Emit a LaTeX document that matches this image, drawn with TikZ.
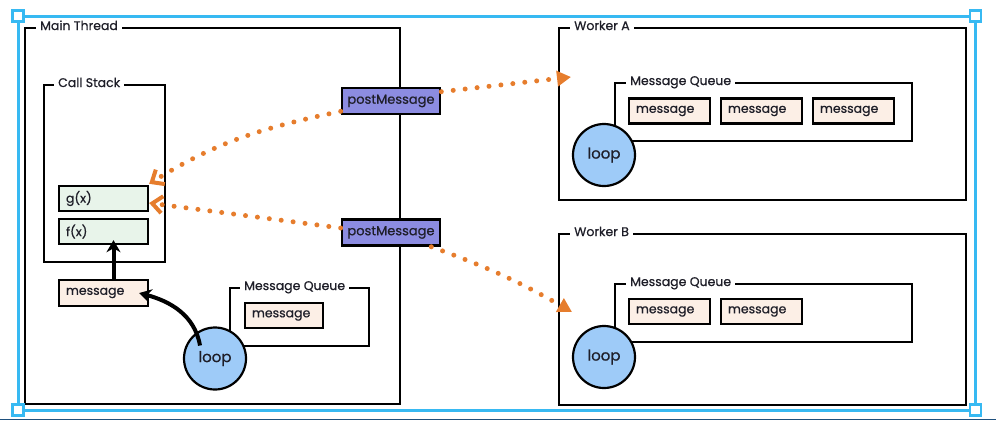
\documentclass[tikz,border=0pt]{standalone}
\usepackage{fontspec}
\setmainfont{Poppins}[FakeBold=0.6]
\usetikzlibrary{arrows.meta}
\definecolor{txt}{RGB}{30,30,40}
\definecolor{greenfill}{RGB}{232,244,234}
\definecolor{msgfill}{RGB}{252,239,230}
\definecolor{loopblue}{RGB}{158,203,248}
\definecolor{pmpurple}{RGB}{140,140,225}
\definecolor{orng}{RGB}{230,125,45}
\definecolor{selblue}{RGB}{55,185,242}
\definecolor{navy}{RGB}{30,80,125}
\begin{document}
\begin{tikzpicture}[x=1pt,y=1pt,
  frame/.style={draw=black, line width=2.4pt, anchor=north west, inner sep=0pt},
  title/.style={fill=white, anchor=base west, inner xsep=4pt, inner ysep=1pt, text=txt, font=\fontsize{12.5}{14}\selectfont},
  box/.style={draw=black, line width=2.4pt, inner xsep=7pt, inner ysep=0pt, minimum height=25pt, align=left, text=txt, font=\fontsize{12.5}{14}\selectfont},
  loopc/.style={circle, draw=black, line width=2.2pt, fill=loopblue, minimum size=62pt, inner sep=0pt, text=txt, font=\fontsize{15}{17}\selectfont},
  pm/.style={draw=black, line width=2.6pt, fill=pmpurple, minimum width=98pt, minimum height=26pt, inner sep=0pt, text=txt, font=\fontsize{13}{15}\selectfont},
  blk/.style={draw=black, line width=4pt, -{Stealth[length=12pt,width=14pt]}},
  odot/.style={draw=orng, line width=5pt, line cap=round, dash pattern=on 0pt off 12pt},
  barb/.style={-{Straight Barb[length=10pt,width=17pt,line width=4pt]}},
  tri/.style={-{Triangle[length=14pt,width=15pt]}},
  handle/.style={draw=selblue, fill=white, line width=2.5pt, minimum size=11pt, inner sep=0pt}
]
\useasboundingbox (0,0) rectangle (996,-421);

% frames
\node[frame, minimum width=375pt, minimum height=376pt] (main) at (24,-27) {};
\node[title] (tmain) at (36,-30) {Main Thread};
\node[frame, minimum width=121pt, minimum height=177pt] (cs) at (43,-84) {};
\node[title] (tcs) at (54,-87) {Call Stack};
\node[frame, minimum width=139pt, minimum height=58pt] (mqm) at (229,-287) {};
\node[title] (tmqm) at (240,-290) {Message Queue};

\node[frame, minimum width=407pt, minimum height=172pt] (wa) at (558,-27) {};
\node[title] (twa) at (570,-30) {Worker A};
\node[frame, minimum width=297pt, minimum height=58pt] (mqa) at (614,-82) {};
\node[title] (tmqa) at (626,-85) {Message Queue};

\node[frame, minimum width=407pt, minimum height=171pt] (wb) at (558,-233) {};
\node[title] (twb) at (570,-236) {Worker B};
\node[frame, minimum width=297pt, minimum height=58pt] (mqb) at (614,-283) {};
\node[title] (tmqb) at (626,-286) {Message Queue};

% boxes
\node[box, fill=greenfill, text width=75pt] (g) at (103.5,-198.5) {g(x)};
\node[box, fill=greenfill, text width=75pt] (f) at (103.5,-231.5) {f(x)};
\node[box, fill=msgfill, text width=75pt, minimum height=26pt] (msgm) at (103.5,-293) {message};
\node[box, fill=msgfill, text width=64pt] (qm1) at (284,-315.5) {message};

\node[box, fill=msgfill, text width=67pt] (qa1) at (669.5,-111) {message};
\node[box, fill=msgfill, text width=67pt] (qa2) at (761.5,-111) {message};
\node[box, fill=msgfill, text width=67pt] (qa3) at (853.5,-111) {message};

\node[box, fill=msgfill, text width=67pt] (qb1) at (669.5,-311.5) {message};
\node[box, fill=msgfill, text width=67pt] (qb2) at (761.5,-311.5) {message};

% loops
\node[loopc] (loopm) at (215,-358.5) {loop};
\node[loopc] (loopa) at (604,-155) {loop};
\node[loopc] (loopb) at (604,-357) {loop};

% black arrows
\draw[blk] ([xshift=10pt]msgm.north) -- ([xshift=10pt,yshift=5pt]f.south);
\draw[blk] ([shift={(-15pt,13pt)}]loopm.center) to[out=100,in=-15] ([xshift=-10pt]msgm.east);

% postMessage boxes
\node[pm] (pm1) at (391,-101) {postMessage};
\node[pm] (pm2) at (391,-232.5) {postMessage};

% orange dotted arrows
\coordinate (ta) at (571,-77);
\coordinate (tb) at (572,-312);
\draw[odot, barb] ([yshift=4pt]pm1.south west) to[out=192,in=32] ([yshift=1pt]g.north east);
\draw[odot, barb] ([yshift=4.5pt]pm2.west) -- ([yshift=-4.5pt]g.east);
\draw[odot, tri] ([yshift=-5pt]pm1.north east) -- (ta);
\draw[odot, tri] ([xshift=-10pt]pm2.south east) to[bend left=5] (tb);

% selection border
\draw[selblue, line width=3pt] (18,-16) rectangle (975.5,-410);
\node[handle] (h1) at (18,-16) {};
\node[handle] (h2) at (975.5,-16) {};
\node[handle] (h3) at (18,-410) {};
\node[handle] (h4) at (975.5,-410) {};
\draw[navy, line width=1.5pt] (0,-419.5) -- (996,-419.5);
\end{tikzpicture}
\end{document}
